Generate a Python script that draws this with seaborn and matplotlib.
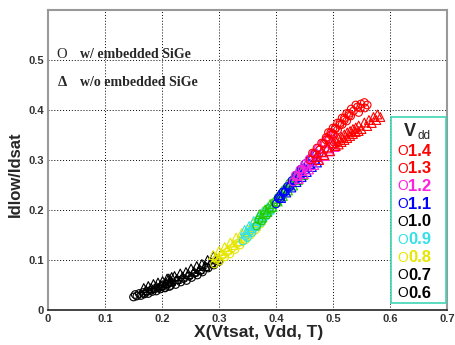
import pandas as pd
import numpy as np
import matplotlib
matplotlib.use('Agg')
import matplotlib.pyplot as plt
import seaborn as sns
from matplotlib.patches import Rectangle

# Vdd groups, drawn from lowest to highest
vdd_labels = ['0.6', '0.7', '0.8', '0.9', '1.0', '1.1', '1.2', '1.3', '1.4']
point_colors = ['black', 'black', '#e6e600', '#33e0e6', '#22cc00', '#0000ff', '#ff22dd', '#ff0000', '#ff0000']
legend_colors = ['black', 'black', '#e6e600', '#33e0e6', 'black', '#0000ff', '#ff22dd', '#ff0000', '#ff0000']

# w/ embedded SiGe (circles)
circ_x = {
    '0.6': [0.150, 0.156, 0.163, 0.169, 0.176, 0.183, 0.190, 0.197, 0.205, 0.213,
            0.153, 0.160, 0.167, 0.174, 0.181, 0.188, 0.195, 0.202, 0.210],
    '0.7': [0.205, 0.215, 0.224, 0.233, 0.243, 0.252, 0.262, 0.271, 0.281, 0.291, 0.300,
            0.208, 0.218, 0.228, 0.238, 0.248, 0.258, 0.268, 0.278, 0.288, 0.296],
    '0.8': [0.292, 0.301, 0.310, 0.319, 0.328, 0.337, 0.346, 0.355, 0.364, 0.373,
            0.296, 0.305, 0.314, 0.323, 0.332, 0.341, 0.350, 0.359, 0.368],
    '0.9': [0.342, 0.350, 0.358, 0.366, 0.374, 0.382, 0.390,
            0.346, 0.354, 0.362, 0.370, 0.378, 0.386],
    '1.0': [0.366, 0.375, 0.384, 0.393, 0.402, 0.411, 0.420, 0.429, 0.438, 0.446,
            0.370, 0.379, 0.388, 0.397, 0.406, 0.415, 0.424, 0.433, 0.442],
    '1.1': [0.400, 0.408, 0.416, 0.424, 0.432, 0.440, 0.448, 0.456, 0.464, 0.471,
            0.404, 0.412, 0.420, 0.428, 0.436, 0.444, 0.452, 0.460, 0.468],
    '1.2': [0.430, 0.438, 0.446, 0.454, 0.462, 0.470, 0.478, 0.486, 0.494, 0.501,
            0.434, 0.442, 0.450, 0.458, 0.466, 0.474, 0.482, 0.490, 0.498],
    '1.3': [0.460, 0.468, 0.476, 0.484, 0.492, 0.500, 0.508, 0.516, 0.524, 0.531,
            0.464, 0.472, 0.480, 0.488, 0.496, 0.504, 0.512, 0.520, 0.528],
    '1.4': [0.488, 0.496, 0.504, 0.512, 0.520, 0.528, 0.536, 0.543, 0.549, 0.555, 0.545,
            0.492, 0.500, 0.508, 0.516, 0.524, 0.532, 0.540, 0.548, 0.556, 0.560],
}
circ_y = {
    '0.6': [0.026, 0.028, 0.029, 0.032, 0.033, 0.037, 0.038, 0.042, 0.045, 0.047,
            0.031, 0.033, 0.035, 0.037, 0.040, 0.043, 0.045, 0.049, 0.052],
    '0.7': [0.044, 0.049, 0.051, 0.056, 0.059, 0.065, 0.070, 0.076, 0.084, 0.090, 0.097,
            0.052, 0.055, 0.060, 0.063, 0.068, 0.074, 0.079, 0.086, 0.093, 0.101],
    '0.8': [0.092, 0.098, 0.106, 0.112, 0.121, 0.130, 0.140, 0.150, 0.160, 0.172,
            0.101, 0.109, 0.116, 0.124, 0.133, 0.142, 0.152, 0.162, 0.174],
    '0.9': [0.138, 0.145, 0.155, 0.166, 0.175, 0.187, 0.197,
            0.148, 0.157, 0.166, 0.176, 0.186, 0.196],
    '1.0': [0.168, 0.178, 0.190, 0.202, 0.215, 0.228, 0.243, 0.254, 0.268, 0.280,
            0.180, 0.191, 0.203, 0.215, 0.228, 0.241, 0.254, 0.266, 0.279],
    '1.1': [0.212, 0.223, 0.236, 0.246, 0.258, 0.270, 0.282, 0.291, 0.302, 0.311,
            0.224, 0.236, 0.247, 0.259, 0.270, 0.282, 0.293, 0.303, 0.314],
    '1.2': [0.256, 0.268, 0.281, 0.289, 0.302, 0.312, 0.322, 0.332, 0.342, 0.349,
            0.270, 0.281, 0.292, 0.302, 0.313, 0.323, 0.334, 0.344, 0.354],
    '1.3': [0.300, 0.312, 0.320, 0.333, 0.341, 0.352, 0.360, 0.371, 0.378, 0.388,
            0.314, 0.324, 0.334, 0.345, 0.355, 0.364, 0.374, 0.384, 0.393],
    '1.4': [0.340, 0.350, 0.362, 0.370, 0.380, 0.389, 0.398, 0.406, 0.412, 0.415, 0.395,
            0.355, 0.364, 0.374, 0.384, 0.393, 0.402, 0.410, 0.404, 0.404, 0.410],
}

# w/o embedded SiGe (triangles)
tri_x = {
    '0.6': [0.168, 0.176, 0.185, 0.193, 0.201, 0.209, 0.217,
            0.172, 0.181, 0.190, 0.198, 0.206, 0.214],
    '0.7': [0.212, 0.222, 0.232, 0.242, 0.251, 0.261, 0.270, 0.280, 0.290,
            0.216, 0.226, 0.236, 0.246, 0.256, 0.266, 0.276, 0.286, 0.296],
    '0.8': [0.290, 0.300, 0.310, 0.320, 0.330, 0.340, 0.350, 0.360, 0.370, 0.378,
            0.295, 0.305, 0.315, 0.325, 0.335, 0.345, 0.355, 0.365, 0.374],
    '0.9': [0.345, 0.353, 0.361, 0.369, 0.377, 0.385,
            0.349, 0.357, 0.365, 0.373, 0.381, 0.389],
    '1.0': [0.372, 0.381, 0.390, 0.399, 0.408, 0.417, 0.426, 0.435, 0.444,
            0.376, 0.385, 0.394, 0.403, 0.412, 0.421, 0.430, 0.439, 0.448],
    '1.1': [0.405, 0.414, 0.423, 0.432, 0.441, 0.450, 0.459, 0.468,
            0.409, 0.418, 0.427, 0.436, 0.445, 0.454, 0.463, 0.472],
    '1.2': [0.436, 0.445, 0.454, 0.463, 0.472, 0.481, 0.490, 0.499,
            0.440, 0.449, 0.458, 0.467, 0.476, 0.485, 0.494, 0.503],
    '1.3': [0.470, 0.480, 0.490, 0.500, 0.510, 0.520, 0.530, 0.540,
            0.475, 0.485, 0.495, 0.505, 0.515, 0.525, 0.535, 0.545],
    '1.4': [0.505, 0.515, 0.525, 0.535, 0.545, 0.555, 0.563, 0.571, 0.578,
            0.510, 0.520, 0.530, 0.540, 0.550, 0.560, 0.568, 0.576, 0.583],
}
tri_y = {
    '0.6': [0.044, 0.048, 0.052, 0.055, 0.058, 0.063, 0.066,
            0.040, 0.044, 0.047, 0.050, 0.054, 0.058],
    '0.7': [0.063, 0.068, 0.073, 0.076, 0.083, 0.088, 0.092, 0.100, 0.108,
            0.058, 0.062, 0.067, 0.072, 0.077, 0.082, 0.088, 0.095, 0.102],
    '0.8': [0.110, 0.118, 0.126, 0.135, 0.145, 0.154, 0.162, 0.174, 0.188, 0.198,
            0.106, 0.113, 0.121, 0.130, 0.138, 0.147, 0.157, 0.168, 0.180],
    '0.9': [0.160, 0.168, 0.178, 0.187, 0.197, 0.205,
            0.155, 0.164, 0.173, 0.183, 0.192, 0.201],
    '1.0': [0.192, 0.201, 0.212, 0.222, 0.234, 0.244, 0.255, 0.266, 0.276,
            0.185, 0.196, 0.206, 0.217, 0.228, 0.239, 0.249, 0.260, 0.270],
    '1.1': [0.230, 0.240, 0.251, 0.262, 0.272, 0.282, 0.292, 0.301,
            0.224, 0.235, 0.245, 0.256, 0.266, 0.276, 0.286, 0.295],
    '1.2': [0.268, 0.278, 0.287, 0.297, 0.306, 0.315, 0.323, 0.332,
            0.262, 0.272, 0.281, 0.290, 0.300, 0.308, 0.317, 0.326],
    '1.3': [0.306, 0.316, 0.325, 0.334, 0.343, 0.351, 0.358, 0.365,
            0.300, 0.310, 0.318, 0.328, 0.336, 0.344, 0.352, 0.358],
    '1.4': [0.338, 0.346, 0.355, 0.362, 0.369, 0.375, 0.380, 0.386, 0.391,
            0.331, 0.340, 0.348, 0.356, 0.362, 0.368, 0.374, 0.380, 0.386],
}

x_ticks = [0, 0.1, 0.2, 0.3, 0.4, 0.5, 0.6, 0.7]
y_ticks = [0, 0.1, 0.2, 0.3, 0.4, 0.5]
x_tick_labels = ['0', '0.1', '0.2', '0.3', '0.4', '0.5', '0.6', '0.7']
y_tick_labels = ['0', '0.1', '0.2', '0.3', '0.4', '0.5']

sns.set_style('white')
plt.rcParams['font.family'] = ['Liberation Sans', 'DejaVu Sans']

fig = plt.figure(figsize=(4.56, 3.45), dpi=100)
ax = fig.add_axes([48/456, 35/345, 399/456, 300/345])

for lab, col in zip(vdd_labels, point_colors):
    sns.scatterplot(x=tri_x[lab], y=tri_y[lab], marker='^', s=40, color=col,
                    facecolor='none', edgecolor=col, linewidth=0.8, ax=ax, zorder=3)
    sns.scatterplot(x=circ_x[lab], y=circ_y[lab], marker='o', s=30, color=col,
                    facecolor='none', edgecolor=col, linewidth=0.8, ax=ax, zorder=3)

ax.set_xlim(0, 0.7)
ax.set_ylim(0, 0.6)
ax.set_xticks(x_ticks)
ax.set_xticklabels(x_tick_labels)
ax.set_yticks(y_ticks)
ax.set_yticklabels(y_tick_labels)
ax.tick_params(axis='both', labelsize=8, colors='#333333', length=3, width=0.8,
               direction='in', pad=3)
for t in ax.get_xticklabels() + ax.get_yticklabels():
    t.set_fontweight('bold')
ax.grid(True, color='black', linestyle=(0, (1, 2)), linewidth=0.7)
for side in ['left', 'top', 'right']:
    ax.spines[side].set_color('#999999')
    ax.spines[side].set_linewidth(1.5)
ax.spines['bottom'].set_color('#222222')
ax.spines['bottom'].set_linewidth(1.2)

# axis labels
fig.text(259/456, 1 - 333/345, 'X(Vtsat, Vdd, T)', fontsize=12.5, fontweight='bold',
         ha='center', va='center')
fig.text(15/456, 1 - 174/345, 'Idlow/Idsat', fontsize=12, fontweight='bold',
         ha='center', va='center', rotation=90)

# marker-type notes
serif = ['Liberation Serif', 'DejaVu Serif']
fig.text(62/456, 1 - 55/345, 'O', fontsize=10.5, family=serif, ha='center', va='center')
fig.text(80/456, 1 - 55/345, 'w/ embedded SiGe', fontsize=10, family=serif,
         fontweight='bold', ha='left', va='center')
fig.text(62/456, 1 - 82/345, 'Δ', fontsize=10.5, family=serif, fontweight='bold',
         ha='center', va='center')
fig.text(80/456, 1 - 82/345, 'w/o embedded SiGe', fontsize=10, family=serif,
         fontweight='bold', ha='left', va='center')

# Vdd legend box
box = Rectangle((391/456, 1 - 303/345), 55/456, 186/345, transform=fig.transFigure,
                facecolor='white', edgecolor='#40d4b4', linewidth=1.2, zorder=5)
fig.patches.append(box)
fig.text(410/456, 1 - 132/345, 'V', fontsize=13, fontweight='bold',
         ha='center', va='center', zorder=6)
fig.text(418/456, 1 - 136/345, 'dd', fontsize=8.5, ha='left', va='center', zorder=6)
for i, (lab, col) in enumerate(zip(vdd_labels[::-1], legend_colors[::-1])):
    yy = 1 - (151 + 17.75 * i) / 345
    fig.text(403/456, yy, 'O', fontsize=10, color=col, ha='center', va='center', zorder=6)
    fig.text(408/456, yy, lab, fontsize=12, fontweight='bold', color=col,
             ha='left', va='center', zorder=6)

fig.savefig('out.png', dpi=100)
